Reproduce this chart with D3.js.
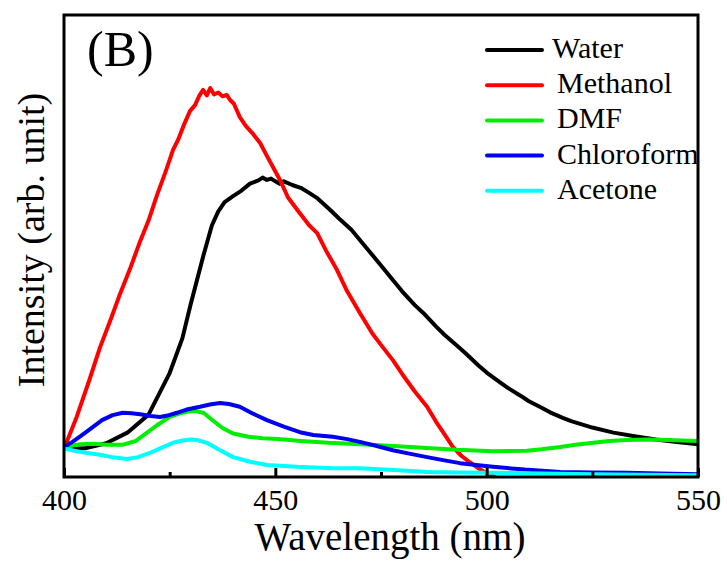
<!DOCTYPE html>
<html>
<head>
<meta charset="utf-8">
<script src="https://cdn.jsdelivr.net/npm/d3@7"></script>
<style>
  html, body { margin: 0; padding: 0; background: #fff; }
  svg text { font-family: 'Liberation Serif', 'Times New Roman', serif; }
</style>
</head>
<body>
<svg id="chart" width="727" height="563"></svg>
<script>
// ---- data (wavelength nm, intensity arb. unit) ----
const seriesNames = ["Water", "Methanol", "DMF", "Chloroform", "Acetone"];
const seriesColors = ["#000000", "#ff0000", "#00ee00", "#0000ee", "#00ffff"];
const xTicks = [400, 450, 500, 550];
const xMinorTicks = [425, 475, 525];

const water = [
  [400,6.1],[405,6.2],[410,7.3],[415,9.6],[420,13.5],[425,22.5],[428,30],[430,37.5],[433,48],[435,54.5],
  [436.5,57.5],[438,59.5],[440,60.8],[442,62],[444,63.5],[446,64.2],[447,64.8],[448,64.3],[449,64.6],[450,64],[451,63.5],
  [452,64],[454,63.2],[456,62.6],[458,61.5],[460,60.3],[463,57.8],[465,56],[468,53.5],[470,51.3],[473,48],
  [475,45.8],[478,42.4],[480,40.2],[483,37.2],[485,35.5],[488,32.6],[490,30.8],[493,28.4],[495,26.8],[498,24.2],
  [500,22.6],[503,20.6],[505,19.3],[508,17.6],[510,16.4],[513,15],[515,14],[518,12.8],[520,12.1],[525,10.7],
  [530,9.6],[535,8.8],[540,8.1],[545,7.6],[550,7.1]
];
const methanol = [
  [400,6.1],[403,13],[406,21],[408.5,28],[411,34],[413,39],[415.6,45],[418,51],[420,55.5],[422,61],
  [424,66],[425.8,70.8],[427,73],[428.5,76.5],[429.8,79.2],[431,80.5],[432,82.5],[432.9,83.8],[433.8,82.6],[434.6,84.2],
  [435.5,82.8],[436.5,83.2],[437.5,82.4],[438.5,82.7],[439.3,81.6],[440.2,80.8],[441.6,77.9],[443,76],[444.5,74.5],[446.4,72.3],
  [448,69.5],[449.5,67],[451.1,64.3],[453,60.5],[455.8,57.1],[458,54.5],[459.9,52.8],[462,49],[464.6,44.8],[467,40.2],
  [470,35.5],[473,31],[475,28.6],[477.8,25.3],[480,22.3],[483,18.5],[485.9,15.2],[488,12],[490,9.3],[492,6.5],
  [494,4.6],[496,3.2],[498,1.9],[500,0.8],[502,0]
];
const dmf = [
  [400,6.1],[402,6.8],[404,7.1],[407,7.2],[410,7],[414,7],[417,7.8],[419.5,9.5],[422,11.2],[425,13],
  [427.5,13.8],[429.6,14.2],[431,14.3],[433,13.9],[435,12.4],[437.5,10.6],[440,9.4],[443.6,8.7],[447,8.4],[450.7,8.2],
  [456,7.8],[462.5,7.4],[470,7.1],[478,6.7],[485.9,6.3],[493,5.9],[501.5,5.6],[509.5,5.7],[513,6],[517.4,6.5],
  [521,7],[525.2,7.4],[529,7.8],[533.2,8.0],[538,8.1],[543,8],[550,7.8]
];
const chloroform = [
  [400,6.5],[402,7.6],[404,8.9],[406.8,10.8],[409,12.3],[411.5,13.4],[413.9,13.9],[416,13.8],[418,13.6],[420.5,13.2],
  [422.7,13],[424.5,13.3],[426.7,13.9],[429,14.6],[432.2,15.2],[434.5,15.7],[436.9,16],[439,15.8],[441.6,15.2],[444.5,13.8],
  [448,12.3],[452,10.9],[455.8,9.7],[459,9.1],[463.6,8.7],[467,8.2],[470,7.6],[474,6.7],[477.8,5.8],[482,5],
  [485.9,4.3],[490,3.6],[493.7,3],[497.5,2.6],[501.5,2.2],[509,1.6],[517.4,1.1],[525,1],[533.2,0.9],[541,0.75],
  [550,0.6]
];
const acetone = [
  [400,6.1],[404,5.4],[408.5,4.8],[412,4.2],[414.9,3.9],[417.5,4.3],[420.3,5.2],[423,6.3],[425.8,7.4],[428,7.9],
  [429.8,8.1],[431.5,8],[433.8,7.4],[436.5,6],[440,4.3],[444,3.3],[448,2.6],[455,2.2],[463.6,1.9],[470,1.9],
  [478,1.5],[485.9,1.1],[493,1],[501.5,0.9],[513,0.75],[525.2,0.6],[537,0.5],[550,0.4]
];
const seriesData = [water, methanol, dmf, chloroform, acetone];

// ---- layout ----
const FONT = "'Liberation Serif', 'Times New Roman', serif";
const svg = d3.select("#chart");
const mLeft = 64, mRight = 698, mTop = 15, mBottom = 477;

const x = d3.scaleLinear().domain([400, 550]).range([mLeft, mRight]);
const y = d3.scaleLinear().domain([0, 100]).range([mBottom, mTop]);

svg.append("defs").append("clipPath").attr("id", "clip")
  .append("rect").attr("x", mLeft).attr("y", mTop)
  .attr("width", mRight - mLeft).attr("height", mBottom - mTop);

const line = d3.line().x(d => x(d[0])).y(d => y(d[1])).curve(d3.curveLinear);

const g = svg.append("g").attr("clip-path", "url(#clip)");
seriesData.forEach((s, i) => {
  g.append("path").datum(s)
    .attr("fill", "none")
    .attr("stroke", seriesColors[i])
    .attr("stroke-width", 4)
    .attr("stroke-linejoin", "round")
    .attr("stroke-linecap", "round")
    .attr("d", line);
});

// frame
svg.append("rect")
  .attr("x", mLeft).attr("y", mTop)
  .attr("width", mRight - mLeft).attr("height", mBottom - mTop)
  .attr("fill", "none").attr("stroke", "#000").attr("stroke-width", 3);

// x axis (ticks inward)
const xAxis = d3.axisBottom(x).tickValues(xTicks).tickSizeInner(-9).tickSizeOuter(0).tickPadding(12);
const ax = svg.append("g").attr("transform", `translate(0,${mBottom})`).call(xAxis);
ax.attr("font-family", null).attr("font-size", null);
ax.select(".domain").remove();
ax.selectAll(".tick line").attr("stroke", "#000").attr("stroke-width", 3);
ax.selectAll(".tick text")
  .style("font-family", FONT)
  .style("font-size", "30px").attr("fill", "#000");

const axMinor = d3.axisBottom(x).tickValues(xMinorTicks).tickSizeInner(-5).tickSizeOuter(0).tickFormat("");
const am = svg.append("g").attr("transform", `translate(0,${mBottom})`).call(axMinor);
am.select(".domain").remove();
am.selectAll(".tick line").attr("stroke", "#000").attr("stroke-width", 3);

// axis titles
svg.append("text")
  .attr("x", 390).attr("y", 550)
  .attr("text-anchor", "middle")
  .style("font-family", FONT).style("font-size", "39px").attr("fill", "#000")
  .text("Wavelength (nm)");

svg.append("text")
  .attr("transform", "translate(44,240) rotate(-90)")
  .attr("text-anchor", "middle")
  .style("font-family", FONT).style("font-size", "38px").attr("fill", "#000")
  .text("Intensity (arb. unit)");

// panel label
svg.append("text")
  .attr("x", 87).attr("y", 66)
  .style("font-family", FONT).style("font-size", "50px").attr("fill", "#000")
  .text("(B)");

// legend
const legend = svg.append("g");
seriesNames.forEach((name, i) => {
  const ly = 50 + i * 35.2;
  legend.append("line")
    .attr("x1", 487).attr("x2", 542).attr("y1", ly).attr("y2", ly)
    .attr("stroke", seriesColors[i]).attr("stroke-width", 4).attr("stroke-linecap", "round");
  legend.append("text")
    .attr("x", i === 0 ? 552 : 557).attr("y", ly + 8)
    .style("font-family", FONT).style("font-size", "30px").attr("fill", "#000")
    .text(name);
});
</script>
</body>
</html>
